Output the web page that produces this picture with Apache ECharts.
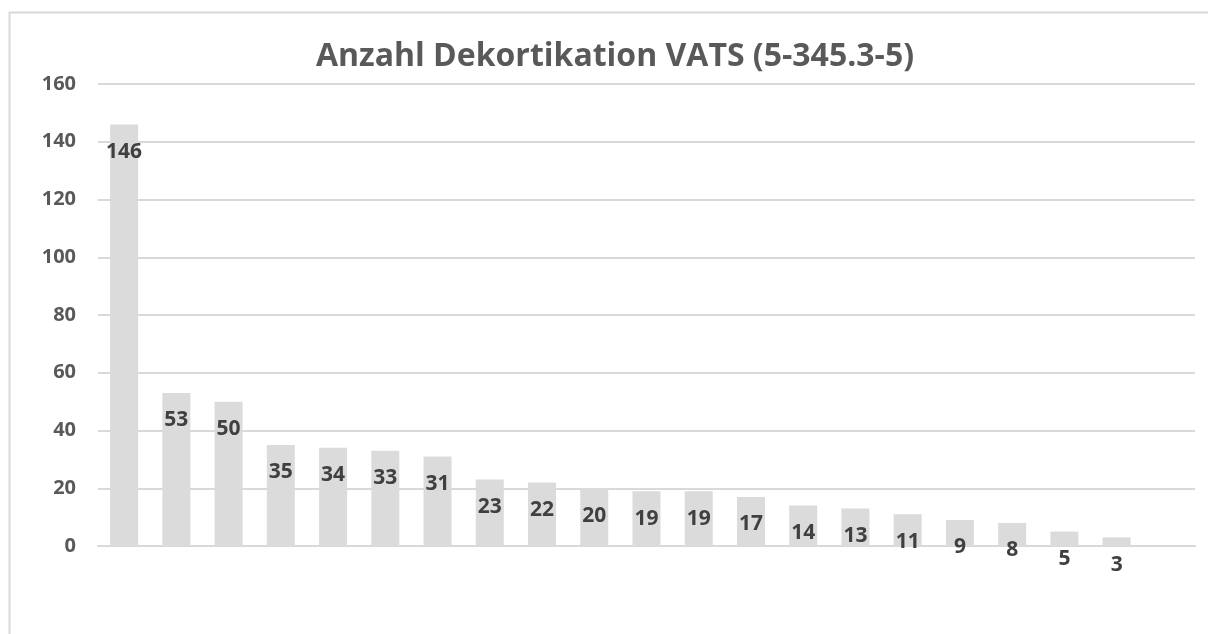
<!DOCTYPE html>
<html>
<head>
<meta charset="utf-8">
<script src="https://cdn.jsdelivr.net/npm/echarts@6/dist/echarts.min.js"></script>
<style>
  html, body { margin: 0; padding: 0; background: #fff; }
  #chart { width: 1208px; height: 634px; }
</style>
</head>
<body>
<div id="chart"></div>
<script>
const title = 'Anzahl Dekortikation VATS (5-345.3-5)'
const categories = ['1', '2', '3', '4', '5', '6', '7', '8', '9', '10',
  '11', '12', '13', '14', '15', '16', '17', '18', '19', '20']
const values = [146, 53, 50, 35, 34, 33, 31, 23, 22, 20,
  19, 19, 17, 14, 13, 11, 9, 8, 5, 3]
const yTicks = [0, 20, 40, 60, 80, 100, 120, 140, 160]

const font = '"Open Sans", "Noto Sans", sans-serif'

const chart = echarts.init(document.getElementById('chart'))

chart.setOption({
  backgroundColor: '#fff',
  animation: false,
  graphic: [{
    type: 'rect',
    left: 7,
    top: 10,
    shape: { width: 1220, height: 640 },
    style: { fill: 'none', stroke: '#d9d9d9', lineWidth: 2 }
  }],
  title: {
    text: title,
    left: 610,
    textAlign: 'center',
    top: 36,
    textStyle: {
      fontFamily: font,
      fontWeight: 'bold',
      fontSize: 32,
      color: '#595959'
    }
  },
  grid: {
    left: 98,
    right: 13,
    top: 84,
    bottom: 88,
    containLabel: false
  },
  xAxis: {
    type: 'category',
    data: categories,
    max: categories.length,
    axisLine: { show: true, lineStyle: { color: '#d9d9d9', width: 2 } },
    axisTick: { show: false },
    axisLabel: { show: false },
    splitLine: { show: false }
  },
  yAxis: {
    type: 'value',
    min: yTicks[0],
    max: yTicks[yTicks.length - 1],
    interval: yTicks[1] - yTicks[0],
    axisLine: { show: false },
    axisTick: { show: false },
    axisLabel: {
      margin: 22,
      fontFamily: font,
      fontWeight: 'bold',
      fontSize: 20,
      color: '#595959'
    },
    splitLine: { lineStyle: { color: '#d9d9d9', width: 2 } }
  },
  series: [{
    type: 'bar',
    data: values,
    barWidth: 28,
    itemStyle: { color: '#dbdbdb' },
    label: {
      show: true,
      position: 'insideTop',
      distance: 0,
      offset: [0, 17],
      fontFamily: font,
      fontWeight: 'bold',
      fontSize: 21,
      color: '#404040'
    }
  }]
})
</script>
</body>
</html>
